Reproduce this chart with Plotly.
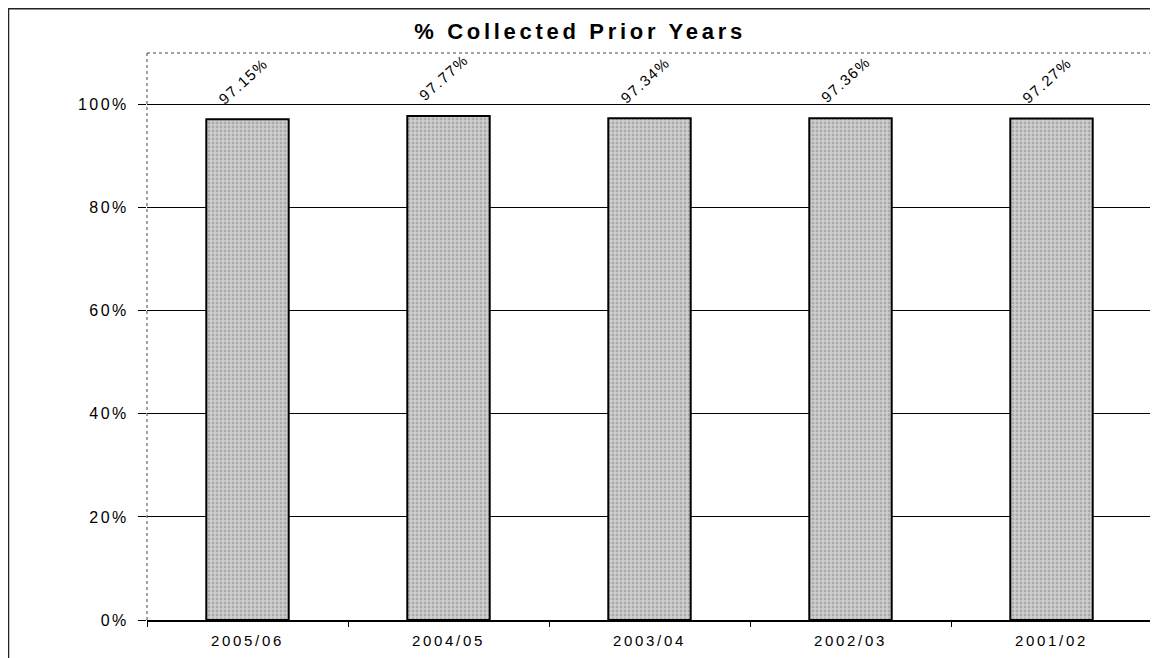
import plotly.graph_objects as go

categories = ["2005/06", "2004/05", "2003/04", "2002/03", "2001/02"]
values = [97.15, 97.77, 97.34, 97.36, 97.27]
labels = ["97.15%", "97.77%", "97.34%", "97.36%", "97.27%"]
y_ticks = [0, 20, 40, 60, 80, 100]
y_tick_text = ["0%", "20%", "40%", "60%", "80%", "100%"]

W, H = 1150, 650
L, R, T, B = 139, 6, 45, 38
pw, ph = W - L - R, H - T - B
OFF = 8  # page body offset


def px(sx):
    return (sx - OFF - L) / pw


def py(sy):
    return (H - B - (sy - OFF)) / ph


def spaced(t, s):
    return '<span style="letter-spacing:%spx">%s</span>' % (s, t)


fig = go.Figure()
fig.add_trace(go.Bar(
    x=categories, y=values, width=0.41,
    marker=dict(color="#bcbcbc", line=dict(color="black", width=2),
                pattern=dict(shape=".", fgcolor="#858585", bgcolor="#cfcfcf", size=4, solidity=0.4)),
    hoverinfo="skip",
))
for c, v, t in zip(categories, values, labels):
    fig.add_annotation(x=c, y=v, text=spaced(t, 1.5), showarrow=False, textangle=-42,
                       xanchor="center", yanchor="bottom", yshift=9, xshift=-5,
                       font=dict(family="Liberation Sans, Arial", size=15, color="black"))

# outer border
fig.add_shape(type="rect", xref="paper", yref="paper",
              x0=px(8.5), x1=px(1157), y0=py(8.7), y1=py(720),
              line=dict(color="#222", width=1.5), layer="below")
# plot area border (top, right, left dotted)
for (x0, x1, y0, y1) in [(0, 1, 1, 1), (1, 1, 0, 1), (0, 0, 0, 1)]:
    fig.add_shape(type="line", xref="paper", yref="paper", x0=x0, x1=x1, y0=y0, y1=y1,
                  line=dict(color="#444", width=1, dash="dot"))

fig.update_layout(
    width=W, height=H,
    margin=dict(l=L, r=R, t=T, b=B),
    paper_bgcolor="white", plot_bgcolor="white",
    showlegend=False,
    title=dict(text="<b>" + spaced("% Collected Prior Years", 3.7) + "</b>",
               x=(580 - OFF) / W, xanchor="center",
               y=1 - (31 - OFF) / H, yanchor="middle",
               font=dict(family="Liberation Sans, Arial", size=22, color="black")),
    font=dict(family="Liberation Sans, Arial", size=15, color="black"),
)
fig.update_yaxes(range=[0, 110], tickvals=y_ticks,
                 ticktext=[spaced(t, 2.5) for t in y_tick_text],
                 showgrid=True, gridcolor="black", gridwidth=1,
                 showline=False, ticklabelstandoff=6,
                 ticks="outside", ticklen=8, tickcolor="black", zeroline=False,
                 tickfont=dict(size=16))
fig.update_xaxes(showgrid=False, showline=True, linecolor="black", linewidth=1.5,
                 ticks="outside", ticklen=5, tickcolor="black", tickson="boundaries",
                 tickvals=categories, ticktext=[spaced(c, 2.7) for c in categories],
                 ticklabelstandoff=6,
                 tickfont=dict(size=15), range=[-0.5, 4.5])

fig.write_html("out.html")
